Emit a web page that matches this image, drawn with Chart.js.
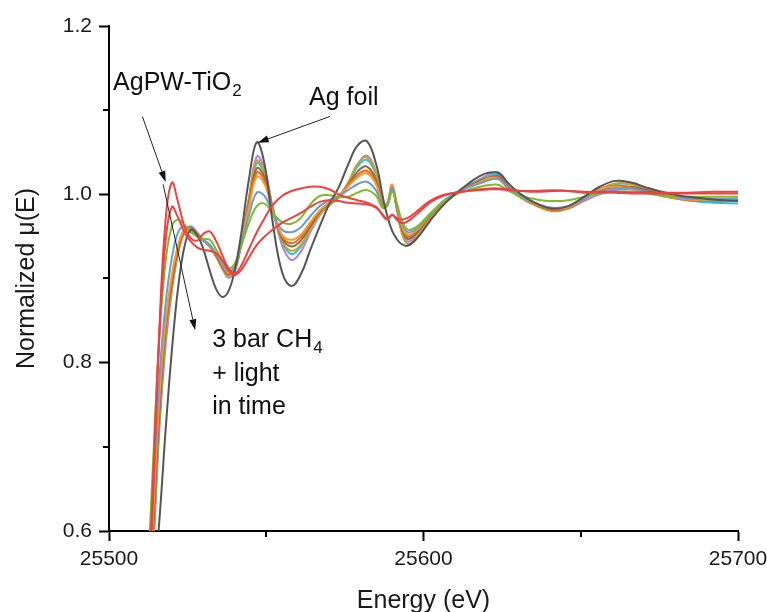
<!DOCTYPE html>
<html>
<head>
<meta charset="utf-8">
<script src="https://cdn.jsdelivr.net/npm/chart.js@4.4.0/dist/chart.umd.min.js"></script>
<style>
  html, body { margin: 0; padding: 0; background: #fff; }
</style>
</head>
<body>
<canvas id="xanes" width="767" height="612"></canvas>
<script>
// energy grid (eV), shared by every spectrum
const energy = [25512, 25514, 25516, 25518, 25520, 25522, 25524, 25526, 25528, 25530,
  25532, 25534, 25536, 25538, 25540, 25542, 25544.5, 25547, 25549.5, 25552,
  25555, 25558, 25561, 25564, 25567, 25570, 25573, 25576, 25579, 25582,
  25585, 25587, 25588.5, 25590, 25591.5, 25593, 25595, 25598, 25602, 25606,
  25610, 25614, 25618, 25621, 25624, 25627, 25631, 25636, 25641, 25646,
  25651, 25656, 25661, 25666, 25671, 25677, 25684, 25692, 25700];

// normalized mu(E)
const agFoil = [0.46, 0.53, 0.612, 0.72, 0.815, 0.89, 0.938, 0.958, 0.952, 0.935,
  0.91, 0.888, 0.878, 0.885, 0.91, 0.952, 1.018, 1.062, 1.035, 0.968,
  0.908, 0.891, 0.905, 0.934, 0.962, 0.988, 1.008, 1.035, 1.058, 1.063,
  1.035, 0.998, 0.974, 0.957, 0.947, 0.941, 0.939, 0.948, 0.968, 0.986,
  1.0, 1.012, 1.022, 1.026, 1.025, 1.013, 1.0, 0.989, 0.983, 0.986,
  0.997, 1.009, 1.016, 1.014, 1.008, 1.002, 0.997, 0.994, 0.992];
const red1 = [0.47, 0.66, 0.84, 0.97, 1.014, 0.99, 0.962, 0.948, 0.945, 0.953,
  0.956, 0.945, 0.928, 0.912, 0.906, 0.915, 0.935, 0.955, 0.972, 0.987,
  0.998, 1.004, 1.007, 1.009, 1.009, 1.006, 1.0, 0.996, 0.993, 0.99,
  0.985, 0.975, 0.97, 0.975, 0.972, 0.97, 0.972, 0.98, 0.992, 0.999,
  1.002, 1.004, 1.006, 1.007, 1.007, 1.006, 1.004, 1.003, 1.004, 1.004,
  1.002, 1.002, 1.002, 1.001, 1.001, 1.001, 1.001, 1.001, 1.001];
const red2 = [0.45, 0.64, 0.83, 0.945, 0.985, 0.972, 0.955, 0.944, 0.937, 0.934,
  0.933, 0.93, 0.922, 0.91, 0.904, 0.91, 0.925, 0.94, 0.95, 0.958,
  0.966, 0.972, 0.978, 0.985, 0.991, 0.993, 0.992, 0.99, 0.989, 0.988,
  0.984, 0.976, 0.971, 0.976, 0.97, 0.966, 0.968, 0.977, 0.99, 0.998,
  1.002, 1.004, 1.005, 1.006, 1.006, 1.005, 1.004, 1.004, 1.005, 1.004,
  1.003, 1.003, 1.003, 1.002, 1.003, 1.002, 1.002, 1.003, 1.003];
const purple = [0.44, 0.57, 0.72, 0.82, 0.885, 0.93, 0.955, 0.962, 0.955, 0.946,
  0.94, 0.928, 0.912, 0.901, 0.908, 0.94, 0.995, 1.045, 1.03, 0.985,
  0.94, 0.922, 0.932, 0.955, 0.975, 0.987, 0.996, 1.012, 1.035, 1.046,
  1.025, 0.99, 0.988, 1.008, 0.985, 0.958, 0.944, 0.952, 0.972, 0.988,
  1.0, 1.01, 1.018, 1.024, 1.026, 1.012, 0.998, 0.988, 0.981, 0.983,
  0.992, 1.0, 1.005, 1.006, 1.004, 1.0, 0.996, 0.994, 0.994];
const cyan = [0.45, 0.58, 0.73, 0.83, 0.89, 0.933, 0.956, 0.961, 0.954, 0.946,
  0.94, 0.928, 0.913, 0.903, 0.91, 0.942, 0.993, 1.037, 1.024, 0.984,
  0.944, 0.929, 0.938, 0.958, 0.977, 0.988, 0.997, 1.013, 1.033, 1.041,
  1.022, 0.988, 0.99, 1.01, 0.987, 0.962, 0.948, 0.955, 0.974, 0.99,
  1.001, 1.01, 1.017, 1.022, 1.023, 1.01, 0.997, 0.987, 0.981, 0.984,
  0.995, 1.006, 1.012, 1.012, 1.006, 0.998, 0.993, 0.99, 0.989];
const gold = [0.45, 0.58, 0.73, 0.83, 0.89, 0.932, 0.955, 0.96, 0.954, 0.945,
  0.938, 0.926, 0.912, 0.903, 0.91, 0.942, 0.995, 1.04, 1.026, 0.985,
  0.945, 0.933, 0.94, 0.958, 0.976, 0.987, 0.996, 1.014, 1.036, 1.044,
  1.024, 0.988, 0.987, 1.006, 0.982, 0.955, 0.941, 0.95, 0.971, 0.988,
  1.0, 1.009, 1.016, 1.021, 1.021, 1.009, 0.996, 0.986, 0.98, 0.983,
  0.994, 1.006, 1.013, 1.012, 1.007, 1.0, 0.996, 0.994, 0.993];
const brown = [0.46, 0.6, 0.74, 0.84, 0.895, 0.935, 0.957, 0.96, 0.953, 0.945,
  0.939, 0.928, 0.914, 0.905, 0.912, 0.943, 0.99, 1.031, 1.02, 0.983,
  0.948, 0.938, 0.945, 0.962, 0.979, 0.989, 0.997, 1.011, 1.027, 1.033,
  1.016, 0.986, 0.988, 1.008, 0.984, 0.96, 0.947, 0.955, 0.974, 0.99,
  1.001, 1.009, 1.016, 1.02, 1.021, 1.008, 0.996, 0.987, 0.982, 0.985,
  0.995, 1.004, 1.009, 1.009, 1.005, 0.999, 0.995, 0.994, 0.994];
const darkOrange = [0.47, 0.61, 0.75, 0.845, 0.9, 0.938, 0.958, 0.96, 0.953, 0.945,
  0.939, 0.929, 0.915, 0.906, 0.913, 0.943, 0.987, 1.026, 1.016, 0.982,
  0.95, 0.942, 0.949, 0.965, 0.98, 0.99, 0.998, 1.01, 1.023, 1.028,
  1.013, 0.985, 0.988, 1.01, 0.986, 0.962, 0.95, 0.957, 0.975, 0.99,
  1.001, 1.009, 1.015, 1.02, 1.02, 1.007, 0.996, 0.987, 0.981, 0.984,
  0.995, 1.005, 1.01, 1.008, 1.003, 0.997, 0.993, 0.992, 0.992];
const orange = [0.47, 0.62, 0.76, 0.85, 0.905, 0.94, 0.958, 0.959, 0.952, 0.945,
  0.94, 0.93, 0.917, 0.907, 0.914, 0.943, 0.985, 1.021, 1.012, 0.98,
  0.952, 0.946, 0.952, 0.967, 0.981, 0.99, 0.998, 1.009, 1.02, 1.025,
  1.011, 0.984, 0.99, 1.012, 0.988, 0.964, 0.952, 0.958, 0.976, 0.991,
  1.001, 1.008, 1.014, 1.019, 1.018, 1.006, 0.996, 0.988, 0.983, 0.985,
  0.996, 1.006, 1.009, 1.006, 1.002, 0.997, 0.994, 0.993, 0.993];
const blue = [0.49, 0.64, 0.78, 0.87, 0.925, 0.955, 0.962, 0.957, 0.95, 0.945,
  0.94, 0.93, 0.918, 0.909, 0.915, 0.94, 0.975, 1.002, 0.998, 0.978,
  0.958, 0.955, 0.961, 0.974, 0.986, 0.993, 0.998, 1.005, 1.012, 1.015,
  1.004, 0.984, 0.988, 1.008, 0.988, 0.967, 0.955, 0.96, 0.976, 0.991,
  1.001, 1.008, 1.013, 1.017, 1.018, 1.007, 0.997, 0.989, 0.984, 0.986,
  0.995, 1.003, 1.007, 1.007, 1.003, 0.998, 0.995, 0.994, 0.995];
const green = [0.52, 0.68, 0.83, 0.92, 0.962, 0.97, 0.963, 0.955, 0.95, 0.947,
  0.946, 0.935, 0.922, 0.912, 0.918, 0.938, 0.966, 0.986, 0.989, 0.978,
  0.967, 0.965, 0.972, 0.988, 0.998, 0.999, 0.997, 0.997, 1.002, 1.005,
  0.998, 0.984, 0.986, 1.003, 0.99, 0.97, 0.958, 0.962, 0.977, 0.99,
  0.999, 1.005, 1.009, 1.011, 1.011, 1.004, 0.998, 0.994, 0.992, 0.993,
  0.997, 1.001, 1.003, 1.003, 1.001, 0.998, 0.997, 0.997, 0.997];

// first entry is drawn on top
const series = [
  { data: red1, color: "#EE4242" },
  { data: red2, color: "#EE4242" },
  { data: agFoil, color: "#555555" },
  { data: green, color: "#7DBB2A" },
  { data: blue, color: "#6C9BD3" },
  { data: orange, color: "#F59A2F" },
  { data: darkOrange, color: "#E8691C" },
  { data: brown, color: "#8A6A4C" },
  { data: gold, color: "#C7A12A" },
  { data: cyan, color: "#25C5D6" },
  { data: purple, color: "#B37FE5" },
];

const yMinor = [0.7, 0.9, 1.1];
const xMinor = [25550, 25650];

// annotation text anchors (energy, mu) and arrows (from -> to)
const labels = [
  { text: "AgPW-TiO", sub: "2", at: [25501.3, 1.1234] },
  { text: "Ag foil", sub: "", at: [25563.6, 1.1065] },
  { text: "3 bar CH", sub: "4", at: [25532.8, 0.8188] },
  { text: "+ light", sub: "", at: [25532.8, 0.7785] },
  { text: "in time", sub: "", at: [25532.8, 0.7385] },
];
const arrows = [
  { from: [25510.6, 1.0926], to: [25518.0, 1.0146] },
  { from: [25517.2, 1.0119], to: [25527.4, 0.8386] },
  { from: [25570.3, 1.0926], to: [25547.3, 1.0614] },
];

const FONT = '"Liberation Sans", Arial, sans-serif';

const extras = {
  id: "extras",
  afterDraw(chart) {
    const { ctx, chartArea: a, scales: { x, y } } = chart;
    ctx.save();
    // minor ticks
    ctx.strokeStyle = "#000";
    ctx.lineWidth = 2;
    ctx.beginPath();
    yMinor.forEach(v => {
      const py = Math.round(y.getPixelForValue(v));
      ctx.moveTo(a.left - 6, py);
      ctx.lineTo(a.left, py);
    });
    xMinor.forEach(v => {
      const px = Math.round(x.getPixelForValue(v));
      ctx.moveTo(px, a.bottom);
      ctx.lineTo(px, a.bottom + 6);
    });
    ctx.stroke();

    // arrows
    ctx.strokeStyle = "#222";
    ctx.fillStyle = "#111";
    ctx.lineWidth = 1;
    arrows.forEach(ar => {
      const x1 = x.getPixelForValue(ar.from[0]), y1 = y.getPixelForValue(ar.from[1]);
      const x2 = x.getPixelForValue(ar.to[0]), y2 = y.getPixelForValue(ar.to[1]);
      const ang = Math.atan2(y2 - y1, x2 - x1);
      const len = 11, half = 3.5;
      const bx = x2 - len * Math.cos(ang), by = y2 - len * Math.sin(ang);
      ctx.beginPath();
      ctx.moveTo(x1, y1);
      ctx.lineTo(bx, by);
      ctx.stroke();
      ctx.beginPath();
      ctx.moveTo(x2, y2);
      ctx.lineTo(bx + half * Math.sin(ang), by - half * Math.cos(ang));
      ctx.lineTo(bx - half * Math.sin(ang), by + half * Math.cos(ang));
      ctx.closePath();
      ctx.fill();
    });

    // labels
    ctx.fillStyle = "#111";
    ctx.textBaseline = "alphabetic";
    ctx.textAlign = "left";
    labels.forEach(l => {
      const px = x.getPixelForValue(l.at[0]), py = y.getPixelForValue(l.at[1]);
      ctx.font = "25px " + FONT;
      ctx.fillText(l.text, px, py);
      if (l.sub) {
        const w = ctx.measureText(l.text).width;
        ctx.font = "17px " + FONT;
        ctx.fillText(l.sub, px + w + 1, py + 6);
      }
    });
    ctx.restore();
  }
};

new Chart(document.getElementById("xanes"), {
  type: "line",
  data: {
    datasets: series.map(s => ({
      data: energy.map((e, i) => ({ x: e, y: s.data[i] })),
      borderColor: s.color,
      borderWidth: 2,
      pointRadius: 0,
      tension: 0.4,
      fill: false
    }))
  },
  options: {
    responsive: false,
    animation: false,
    layout: { padding: { top: 26, right: 29, left: 0, bottom: 0 } },
    plugins: { legend: { display: false }, tooltip: { enabled: false } },
    scales: {
      x: {
        type: "linear",
        min: 25500,
        max: 25700,
        ticks: {
          stepSize: 100,
          maxRotation: 0,
          padding: 6,
          color: "#1a1a1a",
          font: { family: FONT, size: 21 },
          callback: v => String(v)
        },
        grid: { drawOnChartArea: false, tickLength: 10, tickColor: "#000", tickWidth: 2 },
        border: { color: "#000", width: 2 },
        title: {
          display: true,
          text: "Energy (eV)",
          color: "#1a1a1a",
          font: { family: FONT, size: 25, lineHeight: 1 },
          padding: { top: 0, bottom: -2 }
        },
        afterFit: s => { s.height = 81; s.paddingLeft = 0; s.paddingRight = 0; }
      },
      y: {
        min: 0.6,
        max: 1.2,
        ticks: {
          stepSize: 0.2,
          padding: 7,
          color: "#1a1a1a",
          font: { family: FONT, size: 21 },
          callback: v => v.toFixed(1)
        },
        grid: { drawOnChartArea: false, tickLength: 10, tickColor: "#000", tickWidth: 2 },
        border: { color: "#000", width: 2 },
        title: {
          display: true,
          text: "Normalized μ(E)",
          color: "#1a1a1a",
          font: { family: FONT, size: 25, lineHeight: 1 },
          padding: { top: 15, bottom: 0 }
        },
        afterFit: s => { s.width = 109; }
      }
    }
  },
  plugins: [extras]
});
</script>
</body>
</html>
